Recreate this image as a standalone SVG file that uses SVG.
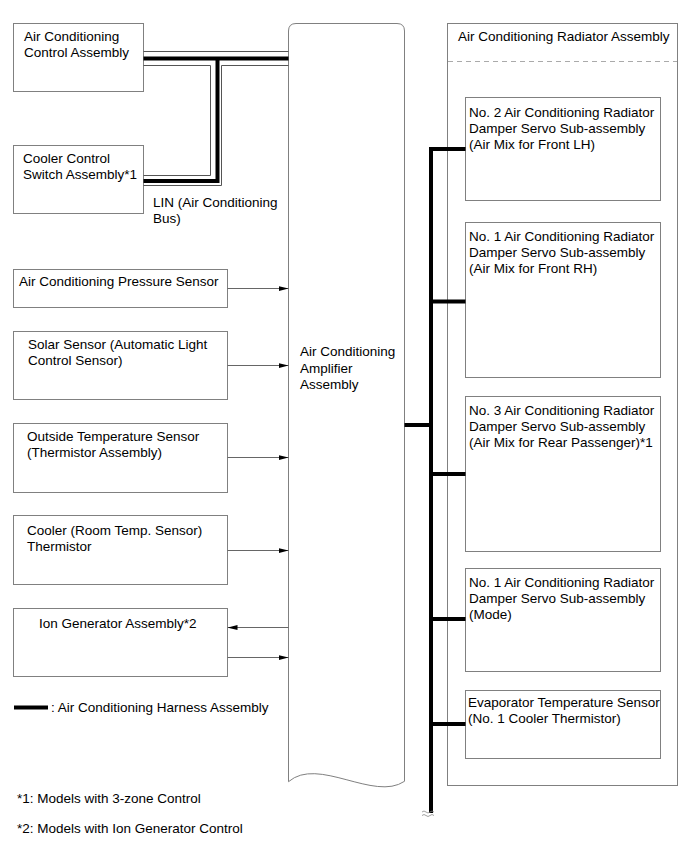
<svg xmlns="http://www.w3.org/2000/svg" width="691" height="855" viewBox="0 0 691 855">
<style>
  text { font-family: "Liberation Sans", Arial, sans-serif; font-size: 13.5px; fill: #000; }
  .box { fill: #fff; stroke: #808080; stroke-width: 1; }
  .thin { fill: none; stroke: #555; stroke-width: 1; }
  .thick { fill: none; stroke: #000; stroke-width: 4; }
  .arr { fill: none; stroke: #666; stroke-width: 1; marker-end: url(#ah); }
  .dash { fill: none; stroke: #aaa; stroke-width: 1; stroke-dasharray: 5 4; }
</style>
<defs>
  <marker id="ah" markerUnits="userSpaceOnUse" markerWidth="10" markerHeight="5" refX="10" refY="2.5" orient="auto">
    <path d="M0,0 L10,2.5 L0,5 z" fill="#000"/>
  </marker>
</defs>
<rect width="691" height="855" fill="#fff"/>

<g id="radiator-assembly">
  <rect class="box" x="447.5" y="23.5" width="230" height="762"/>
  <line class="dash" x1="448" y1="61.5" x2="677" y2="61.5"/>
  <text x="458" y="41">Air Conditioning Radiator Assembly</text>
</g>

<g id="amplifier">
  <path class="box" d="M288.5,781.7 L288.5,31 Q288.5,23.5 296,23.5 L397,23.5 Q404.5,23.5 404.5,31 L404.5,781.3 C374,802 318,756 288.5,781.7 Z"/>
  <text x="300" y="356">Air Conditioning</text>
  <text x="300" y="373">Amplifier</text>
  <text x="300" y="389">Assembly</text>
</g>

<g id="control-assembly">
  <rect class="box" x="13.5" y="23.5" width="130" height="68"/>
  <text x="24" y="41">Air Conditioning</text>
  <text x="24" y="57">Control Assembly</text>
</g>
<g id="cooler-control-switch">
  <rect class="box" x="13.5" y="145.5" width="130" height="68"/>
  <text x="23" y="163">Cooler Control</text>
  <text x="23" y="179">Switch Assembly*1</text>
</g>
<g id="pressure-sensor">
  <rect class="box" x="13.5" y="269.5" width="214" height="38"/>
  <text x="19" y="286">Air Conditioning Pressure Sensor</text>
</g>
<g id="solar-sensor">
  <rect class="box" x="13.5" y="331.5" width="214" height="68"/>
  <text x="28" y="349">Solar Sensor (Automatic Light</text>
  <text x="28" y="365">Control Sensor)</text>
</g>
<g id="outside-temp-sensor">
  <rect class="box" x="13.5" y="423.5" width="214" height="69"/>
  <text x="27" y="441">Outside Temperature Sensor</text>
  <text x="27" y="457">(Thermistor Assembly)</text>
</g>
<g id="room-temp-sensor">
  <rect class="box" x="13.5" y="515.5" width="214" height="69"/>
  <text x="27" y="535">Cooler (Room Temp. Sensor)</text>
  <text x="27" y="551">Thermistor</text>
</g>
<g id="ion-generator">
  <rect class="box" x="13.5" y="608.5" width="214" height="68"/>
  <text x="39" y="628">Ion Generator Assembly*2</text>
</g>

<g id="servo-lh">
  <rect class="box" x="465.5" y="97.5" width="195" height="103"/>
  <text x="469" y="116.5">No. 2 Air Conditioning Radiator</text>
  <text x="469" y="132.5">Damper Servo Sub-assembly</text>
  <text x="469" y="148.5">(Air Mix for Front LH)</text>
</g>
<g id="servo-rh">
  <rect class="box" x="465.5" y="222.5" width="195" height="155"/>
  <text x="469" y="241">No. 1 Air Conditioning Radiator</text>
  <text x="469" y="257">Damper Servo Sub-assembly</text>
  <text x="469" y="273">(Air Mix for Front RH)</text>
</g>
<g id="servo-rear">
  <rect class="box" x="465.5" y="396.5" width="195" height="155"/>
  <text x="469" y="415">No. 3 Air Conditioning Radiator</text>
  <text x="469" y="431">Damper Servo Sub-assembly</text>
  <text x="469" y="447">(Air Mix for Rear Passenger)*1</text>
</g>
<g id="servo-mode">
  <rect class="box" x="465.5" y="568.5" width="195" height="103"/>
  <text x="469" y="587">No. 1 Air Conditioning Radiator</text>
  <text x="469" y="603">Damper Servo Sub-assembly</text>
  <text x="469" y="619">(Mode)</text>
</g>
<g id="evaporator-sensor">
  <rect class="box" x="465.5" y="690.5" width="195" height="68"/>
  <text x="468" y="707">Evaporator Temperature Sensor</text>
  <text x="468" y="723">(No. 1 Cooler Thermistor)</text>
</g>

<g id="connectors">
  <!-- LIN bus -->
  <line class="thin" x1="143.5" y1="51.5" x2="288.5" y2="51.5"/>
  <path class="thin" d="M143.5,65.5 H210.5 V175.5 H143.5"/>
  <path class="thin" d="M288.5,65.5 H221.5 V185.5 H143.5"/>
  <path class="thick" d="M143.5,58.5 H288.5 M217.5,58.5 V181 H143.5"/>
  <text x="153" y="207">LIN (Air Conditioning</text>
  <text x="153" y="223">Bus)</text>
  <!-- sensor arrows -->
  <line class="arr" x1="227.5" y1="288.5" x2="288.5" y2="288.5"/>
  <line class="arr" x1="227.5" y1="365.5" x2="288.5" y2="365.5"/>
  <line class="arr" x1="227.5" y1="457.5" x2="288.5" y2="457.5"/>
  <line class="arr" x1="227.5" y1="550.5" x2="288.5" y2="550.5"/>
  <line class="arr" x1="288.5" y1="627.5" x2="227.5" y2="627.5"/>
  <line class="arr" x1="227.5" y1="657.5" x2="288.5" y2="657.5"/>
  <!-- harness to radiator -->
  <path class="thick" d="M404.5,425 H431"/>
  <path class="thick" d="M431,813 V149 H465.5 M431,301.5 H465.5 M431,474 H465.5 M431,619 H465.5 M431,724 H465.5"/>
  <path d="M422,812 q2,-2 4,0 t4,0 t4,0 M422,815.5 q2,-2 4,0 t4,0 t4,0" fill="none" stroke="#888" stroke-width="0.8"/>
</g>

<g id="legend">
  <line x1="14" y1="707.5" x2="48" y2="707.5" stroke="#000" stroke-width="4"/>
  <text x="51" y="712">: Air Conditioning Harness Assembly</text>
  <text x="17" y="803">*1: Models with 3-zone Control</text>
  <text x="17" y="833">*2: Models with Ion Generator Control</text>
</g>
</svg>
